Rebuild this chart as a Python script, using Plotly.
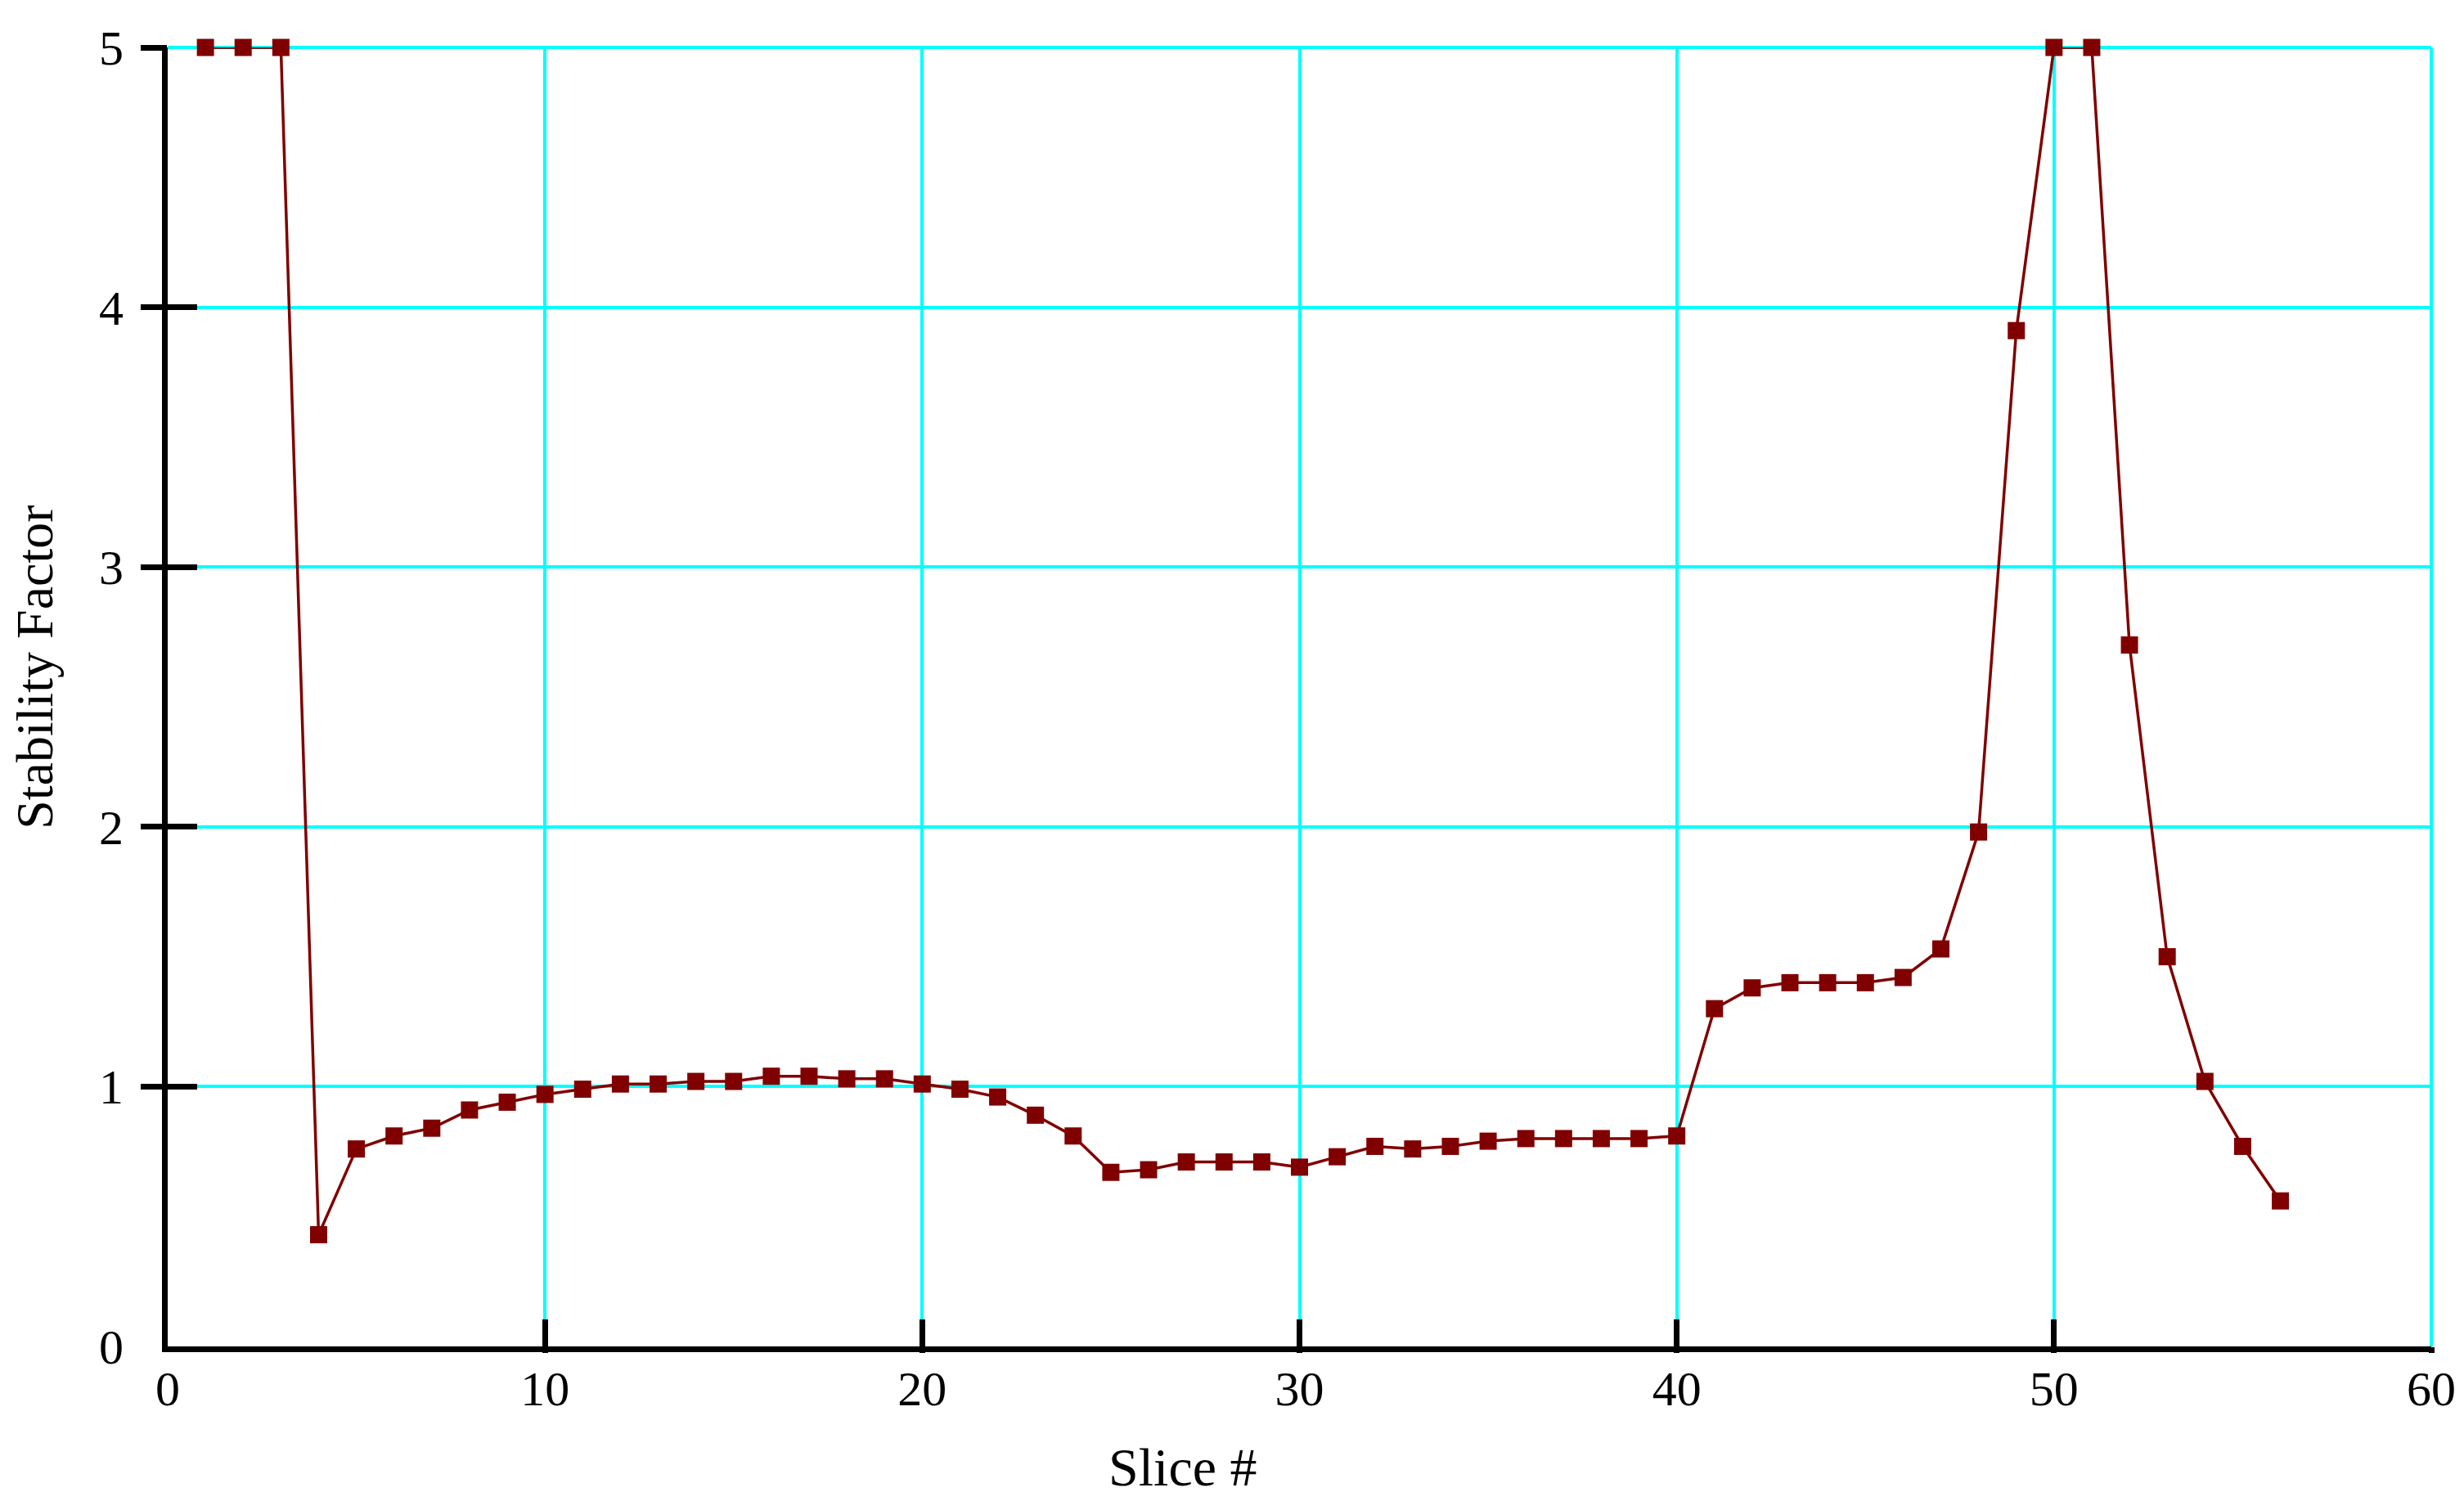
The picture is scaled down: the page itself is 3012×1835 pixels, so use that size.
import plotly.graph_objects as go

# ---- data ----
slice_no = [1, 2, 3, 4, 5, 6, 7, 8, 9, 10,
            11, 12, 13, 14, 15, 16, 17, 18, 19, 20,
            21, 22, 23, 24, 25, 26, 27, 28, 29, 30,
            31, 32, 33, 34, 35, 36, 37, 38, 39, 40,
            41, 42, 43, 44, 45, 46, 47, 48, 49, 50,
            51, 52, 53, 54, 55, 56]
stability = [5.0, 5.0, 5.0, 0.43, 0.76, 0.81, 0.84, 0.91, 0.94, 0.97,
             0.99, 1.01, 1.01, 1.02, 1.02, 1.04, 1.04, 1.03, 1.03, 1.01,
             0.99, 0.96, 0.89, 0.81, 0.67, 0.68, 0.71, 0.71, 0.71, 0.69,
             0.73, 0.77, 0.76, 0.77, 0.79, 0.80, 0.80, 0.80, 0.80, 0.81,
             1.30, 1.38, 1.40, 1.40, 1.40, 1.42, 1.53, 1.98, 3.91, 5.0,
             5.0, 2.70, 1.50, 1.02, 0.77, 0.56]

x_ticks = [0, 10, 20, 30, 40, 50, 60]
y_ticks = [0, 1, 2, 3, 4, 5]
x_title = "Slice #"
y_title = "Stability Factor"

# ---- styles ----
FONT = "Liberation Serif, Times New Roman, serif"
MAROON = "#800000"
CYAN = "#00FFFF"

fig = go.Figure()
fig.add_trace(go.Scatter(
    x=slice_no, y=stability, mode="lines+markers",
    line=dict(color=MAROON, width=3.5),
    marker=dict(symbol="square", size=21, color=MAROON),
    cliponaxis=False, showlegend=False, hoverinfo="x+y",
))
# empty traces to instantiate the tick-only overlay axes
fig.add_trace(go.Scatter(x=[], y=[], xaxis="x2", yaxis="y2", showlegend=False))
fig.add_trace(go.Scatter(x=[], y=[], xaxis="x3", yaxis="y3", showlegend=False))

common_main = dict(
    showgrid=True, gridcolor=CYAN, gridwidth=4,
    showline=True, linecolor="black", linewidth=7,
    zeroline=False, ticks="", automargin=False,
    tickfont=dict(family=FONT, size=60, color="black"),
)
tick_only = dict(
    showgrid=False, showline=False, zeroline=False, automargin=False,
    showticklabels=False, tickcolor="black", tickwidth=7,
)

# the page body has an 8px default margin, so the figure is 8px smaller
fig.update_layout(
    width=3004, height=1827,
    margin=dict(l=197, r=40, t=50, b=189, autoexpand=False),
    paper_bgcolor="white", plot_bgcolor="white",
    xaxis=dict(range=[0, 60], tickmode="array", tickvals=x_ticks,
               ticktext=[str(v) for v in x_ticks], ticklabelstandoff=-7,
               **common_main),
    yaxis=dict(range=[0, 5], tickmode="array", tickvals=y_ticks,
               ticktext=[str(v) for v in y_ticks], ticklabelstandoff=35,
               **common_main),
    xaxis2=dict(overlaying="x", anchor="y2", range=[0, 60], tickmode="array",
                tickvals=x_ticks[1:], ticks="outside", ticklen=7, **tick_only),
    yaxis2=dict(overlaying="y", anchor="x2", range=[0, 5], tickmode="array",
                tickvals=y_ticks[1:], ticks="outside", ticklen=32, **tick_only),
    xaxis3=dict(overlaying="x", anchor="y3", range=[0, 60], tickmode="array",
                tickvals=x_ticks[1:], ticks="inside", ticklen=33, **tick_only),
    yaxis3=dict(overlaying="y", anchor="x3", range=[0, 5], tickmode="array",
                tickvals=y_ticks[1:], ticks="inside", ticklen=36, **tick_only),
    shapes=[
        # grid lines on the top and right plot edges
        dict(type="line", xref="paper", yref="paper", x0=0, x1=1, y0=1, y1=1,
             line=dict(color=CYAN, width=4), layer="below"),
        dict(type="line", xref="paper", yref="paper", x0=1, x1=1, y0=0, y1=1,
             line=dict(color=CYAN, width=4), layer="below"),
    ],
    annotations=[
        dict(text=x_title, xref="paper", yref="paper", x=0.4485, y=-0.093,
             xanchor="center", yanchor="middle", showarrow=False,
             font=dict(family=FONT, size=66, color="black")),
        dict(text=y_title, xref="paper", yref="paper", x=-0.0586, y=0.5227,
             xanchor="center", yanchor="middle", textangle=-90, showarrow=False,
             font=dict(family=FONT, size=64, color="black")),
    ],
)

fig.write_html("out.html")
